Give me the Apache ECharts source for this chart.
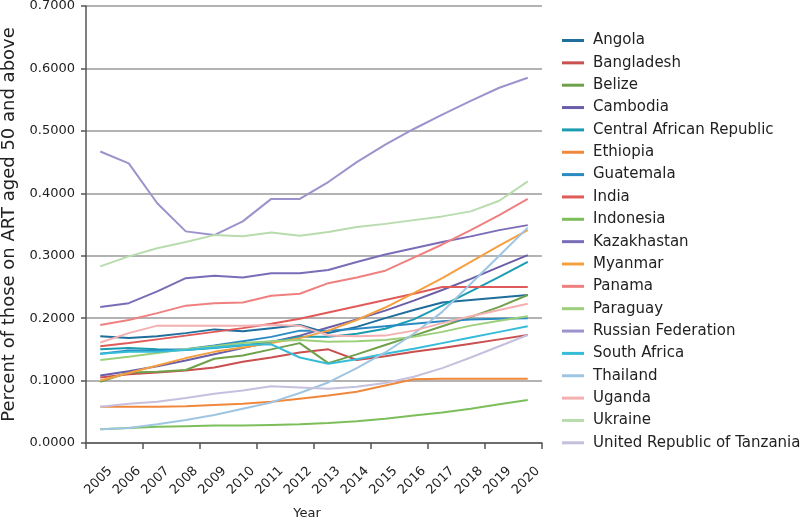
<!DOCTYPE html>
<html>
<head>
<meta charset="utf-8">
<script src="https://cdn.jsdelivr.net/npm/echarts@6/dist/echarts.min.js"></script>
<style>
  html, body { margin: 0; padding: 0; background: #ffffff; }
  #chart { width: 800px; height: 519px; }
</style>
</head>
<body>
<div id="chart"></div>
<script>
const years = ['2005','2006','2007','2008','2009','2010','2011','2012','2013','2014','2015','2016','2017','2018','2019','2020'];
const yTicks = [0, 0.1, 0.2, 0.3, 0.4, 0.5, 0.6, 0.7];

const countries = ['Angola','Bangladesh','Belize','Cambodia','Central African Republic','Ethiopia','Guatemala','India','Indonesia','Kazakhastan','Myanmar','Panama','Paraguay','Russian Federation','South Africa','Thailand','Uganda','Ukraine','United Republic of Tanzania'];

const angola      = [0.171,0.168,0.171,0.176,0.182,0.179,0.184,0.189,0.176,0.186,0.200,0.213,0.225,0.229,0.233,0.237];
const bangladesh  = [0.105,0.110,0.113,0.116,0.121,0.130,0.137,0.145,0.150,0.133,0.139,0.146,0.152,0.159,0.166,0.173];
const belize      = [0.098,0.113,0.114,0.117,0.135,0.140,0.150,0.160,0.128,0.142,0.157,0.172,0.187,0.202,0.218,0.237];
const cambodia    = [0.108,0.115,0.123,0.132,0.142,0.152,0.162,0.172,0.185,0.198,0.212,0.228,0.245,0.263,0.282,0.301];
const car         = [0.150,0.152,0.150,0.149,0.152,0.156,0.162,0.170,0.170,0.175,0.183,0.198,0.220,0.243,0.266,0.290];
const ethiopia    = [0.058,0.058,0.058,0.059,0.061,0.063,0.066,0.071,0.076,0.082,0.092,0.102,0.103,0.103,0.103,0.103];
const guatemala   = [0.143,0.148,0.148,0.150,0.156,0.163,0.170,0.180,0.180,0.183,0.187,0.191,0.195,0.198,0.199,0.200];
const india       = [0.155,0.160,0.166,0.172,0.178,0.184,0.191,0.199,0.209,0.219,0.229,0.239,0.250,0.250,0.250,0.250];
const indonesia   = [0.022,0.024,0.026,0.027,0.028,0.028,0.029,0.030,0.032,0.035,0.039,0.044,0.049,0.055,0.062,0.069];
const kazakhastan = [0.218,0.224,0.243,0.264,0.268,0.265,0.272,0.272,0.277,0.290,0.302,0.312,0.322,0.331,0.341,0.349];
const myanmar     = [0.100,0.112,0.124,0.136,0.146,0.153,0.160,0.168,0.180,0.197,0.217,0.240,0.264,0.290,0.316,0.341];
const panama      = [0.189,0.197,0.208,0.220,0.224,0.225,0.236,0.239,0.256,0.265,0.276,0.297,0.318,0.341,0.365,0.391];
const paraguay    = [0.133,0.138,0.144,0.150,0.155,0.160,0.163,0.165,0.162,0.163,0.165,0.170,0.178,0.188,0.196,0.203];
const russia      = [0.467,0.448,0.384,0.339,0.333,0.355,0.391,0.391,0.418,0.450,0.478,0.503,0.526,0.548,0.569,0.585];
const southAfrica = [0.143,0.146,0.146,0.149,0.153,0.157,0.158,0.137,0.127,0.134,0.143,0.151,0.160,0.169,0.178,0.187];
const thailand    = [0.022,0.024,0.030,0.037,0.045,0.055,0.065,0.080,0.097,0.120,0.145,0.175,0.210,0.255,0.300,0.345];
const uganda      = [0.161,0.176,0.188,0.188,0.188,0.188,0.189,0.188,0.172,0.171,0.172,0.180,0.192,0.203,0.213,0.223];
const ukraine     = [0.283,0.299,0.312,0.322,0.333,0.331,0.337,0.332,0.338,0.346,0.351,0.357,0.363,0.371,0.388,0.419];
const tanzania    = [0.058,0.063,0.066,0.072,0.079,0.084,0.091,0.089,0.087,0.090,0.096,0.106,0.120,0.137,0.155,0.173];

const seriesValues = [angola, bangladesh, belize, cambodia, car, ethiopia, guatemala, india, indonesia, kazakhastan, myanmar, panama, paraguay, russia, southAfrica, thailand, uganda, ukraine, tanzania];
const colors = ['#1f6e9c','#c9504f','#6fa04a','#6a5ea8','#1a9db0','#f0883c','#2a8ac4','#e05a5a','#7cbf5a','#7b6cb8','#f5a040','#f08080','#9ccf7a','#9c93cc','#35bcd8','#9ec5e2','#f4b0b0','#b8dcae','#c4c0de'];

const FONT = '"DejaVu Sans", "Liberation Sans", Arial, sans-serif';
const chart = echarts.init(document.getElementById('chart'), null, { renderer: 'canvas' });

const option = {
  animation: false,
  backgroundColor: '#ffffff',
  color: colors,
  textStyle: { fontFamily: FONT },
  grid: [
    { left: 86, right: 258, top: 6, bottom: 76, containLabel: false, outerBoundsMode: 'none' },
    { left: 96, right: 248, top: 6, bottom: 76, containLabel: false, outerBoundsMode: 'none' }
  ],
  legend: {
    orient: 'vertical',
    left: 557,
    top: 28,
    itemWidth: 22,
    itemHeight: 3,
    itemGap: 7.35,
    icon: 'rect',
    textStyle: { fontFamily: FONT, fontSize: 15, color: '#222', lineHeight: 15, padding: [0, 0, 0, 4] },
    data: countries
  },
  xAxis: [
    {
      type: 'category', gridIndex: 0, data: years, boundaryGap: true,
      axisLine: { show: true, lineStyle: { color: '#555', width: 1.5 } },
      axisTick: { show: true, length: 6, lineStyle: { color: '#555', width: 1.5 } },
      axisLabel: { show: false },
      splitLine: { show: false }
    },
    {
      type: 'category', gridIndex: 1, data: years, boundaryGap: true,
      axisLine: { show: false }, axisTick: { show: false },
      axisLabel: { show: true, rotate: 45, margin: 26, fontSize: 13, color: '#222', fontFamily: FONT, interval: 0 },
      splitLine: { show: false },
      name: 'Year', nameLocation: 'middle', nameGap: 64,
      nameTextStyle: { fontSize: 13, color: '#222', fontFamily: FONT, padding: [0, 34, 0, 0] }
    }
  ],
  yAxis: [
    {
      type: 'value', gridIndex: 0, min: 0, max: 0.7, interval: 0.1,
      axisLine: { show: true, lineStyle: { color: '#555', width: 1.5 } },
      axisTick: { show: true, length: 5, lineStyle: { color: '#555', width: 1.5 } },
      axisLabel: { margin: 11, fontSize: 13, color: '#222', fontFamily: FONT, formatter: v => v.toFixed(4) },
      splitLine: { show: true, lineStyle: { color: '#9a9a9a', width: 1.5 } },
      name: 'Percent of those on ART aged 50 and above', nameLocation: 'middle', nameGap: 58,
      nameTextStyle: { fontSize: 18, color: '#222', fontFamily: FONT }
    },
    {
      type: 'value', gridIndex: 1, min: 0, max: 0.7, interval: 0.1, show: false
    }
  ],
  series: countries.map((name, i) => ({
    name: name,
    type: 'line',
    xAxisIndex: 0,
    yAxisIndex: 0,
    data: seriesValues[i],
    symbol: 'none',
    smooth: false,
    lineStyle: { width: 2, color: colors[i] },
    itemStyle: { color: colors[i] }
  }))
};
chart.setOption(option);
</script>
</body>
</html>
